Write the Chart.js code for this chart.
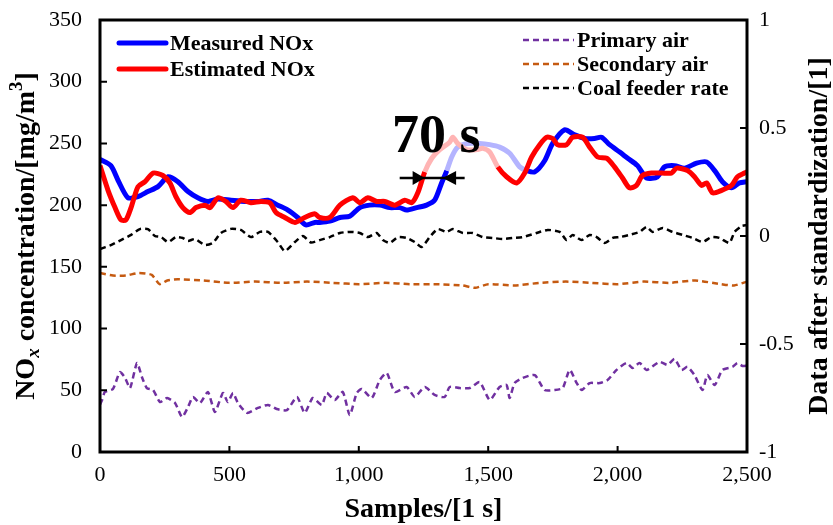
<!DOCTYPE html>
<html>
<head>
<meta charset="utf-8">
<script src="https://cdn.jsdelivr.net/npm/chart.js@4.4.0/dist/chart.umd.min.js"></script>
<style>
html, body { margin: 0; padding: 0; background: #fff; }
#wrap { width: 833px; height: 525px; }
</style>
</head>
<body>
<div id="wrap"><canvas id="nox"></canvas></div>
<script>
// values (samples in s, NOx in mg/m3, others standardized)
var measuredX = [0, 42, 70, 108, 147, 185, 224, 263, 301, 340, 378, 417, 456, 506, 560, 610, 649, 687, 726, 764, 795, 830, 849, 888, 927, 965, 1004, 1042, 1081, 1120, 1158, 1185, 1224, 1262, 1293, 1320, 1340, 1359, 1382, 1421, 1467, 1506, 1544, 1583, 1622, 1649, 1680, 1718, 1749, 1795, 1834, 1873, 1911, 1938, 1969, 2008, 2039, 2077, 2112, 2154, 2181, 2220, 2259, 2305, 2344, 2375, 2405, 2440, 2471, 2500];
var measuredY = [237, 232, 220, 206, 207, 211, 215, 223, 219, 211, 206, 203, 205, 204, 203, 203, 204, 200, 196, 190, 184, 186, 186, 187, 190, 191, 198, 200, 200, 198, 198, 196, 198, 200, 204, 218, 228, 239, 247, 250, 250, 249, 247, 242, 231, 228, 227, 236, 250, 261, 257, 254, 254, 255, 249, 243, 238, 232, 222, 223, 231, 232, 230, 234, 235, 228, 219, 214, 218, 219];

var estimatedX = [0, 31, 58, 81, 100, 120, 147, 174, 205, 243, 270, 293, 320, 347, 371, 405, 425, 456, 486, 514, 544, 583, 622, 656, 680, 714, 753, 791, 830, 849, 888, 927, 977, 1004, 1035, 1069, 1100, 1139, 1178, 1205, 1228, 1255, 1282, 1313, 1351, 1363, 1382, 1417, 1456, 1479, 1506, 1537, 1571, 1610, 1641, 1668, 1699, 1726, 1749, 1768, 1803, 1826, 1865, 1892, 1923, 1958, 1988, 2019, 2046, 2073, 2096, 2131, 2170, 2208, 2228, 2270, 2297, 2324, 2344, 2367, 2402, 2440, 2463, 2490, 2500];
var estimatedY = [232, 212, 198, 188, 188, 198, 215, 219, 226, 224, 218, 207, 198, 194, 198, 200, 198, 206, 203, 198, 204, 202, 203, 202, 194, 190, 186, 190, 193, 190, 190, 200, 206, 202, 206, 203, 203, 200, 204, 202, 210, 227, 238, 245, 251, 255, 250, 245, 245, 246, 243, 231, 223, 218, 226, 239, 249, 255, 254, 249, 249, 255, 255, 247, 239, 238, 231, 222, 214, 216, 224, 226, 226, 226, 230, 228, 223, 216, 218, 210, 212, 216, 223, 226, 227];

var primaryX = [0, 8, 19, 50, 77, 97, 116, 143, 162, 181, 205, 232, 259, 290, 317, 340, 359, 386, 417, 444, 475, 494, 514, 533, 568, 610, 649, 683, 722, 761, 791, 822, 857, 876, 907, 938, 965, 992, 1012, 1050, 1081, 1108, 1139, 1185, 1216, 1255, 1293, 1332, 1351, 1390, 1429, 1467, 1506, 1544, 1571, 1583, 1602, 1633, 1680, 1718, 1757, 1788, 1815, 1842, 1861, 1892, 1931, 1961, 1996, 2035, 2058, 2085, 2112, 2162, 2193, 2220, 2247, 2270, 2297, 2328, 2347, 2375, 2405, 2444, 2463, 2483, 2500];
var primaryY = [-0.78, -0.759, -0.722, -0.708, -0.63, -0.657, -0.704, -0.588, -0.653, -0.704, -0.713, -0.769, -0.75, -0.773, -0.838, -0.792, -0.745, -0.773, -0.722, -0.815, -0.727, -0.769, -0.727, -0.773, -0.819, -0.796, -0.782, -0.801, -0.806, -0.745, -0.819, -0.75, -0.782, -0.727, -0.759, -0.722, -0.829, -0.727, -0.708, -0.75, -0.667, -0.634, -0.722, -0.699, -0.745, -0.699, -0.736, -0.745, -0.699, -0.704, -0.704, -0.676, -0.759, -0.699, -0.69, -0.75, -0.681, -0.657, -0.644, -0.713, -0.713, -0.704, -0.62, -0.681, -0.713, -0.681, -0.681, -0.667, -0.62, -0.588, -0.611, -0.588, -0.62, -0.583, -0.597, -0.569, -0.62, -0.606, -0.644, -0.713, -0.644, -0.69, -0.62, -0.606, -0.588, -0.602, -0.6];

var secondaryX = [0, 50, 100, 150, 200, 230, 260, 300, 400, 500, 600, 700, 800, 900, 1000, 1100, 1200, 1300, 1400, 1450, 1500, 1600, 1700, 1800, 1900, 2000, 2100, 2200, 2300, 2400, 2450, 2500];
var secondaryY = [-0.171, -0.183, -0.183, -0.171, -0.18, -0.223, -0.206, -0.2, -0.206, -0.217, -0.211, -0.217, -0.211, -0.217, -0.223, -0.217, -0.223, -0.223, -0.229, -0.24, -0.223, -0.229, -0.217, -0.211, -0.217, -0.223, -0.211, -0.217, -0.206, -0.223, -0.229, -0.211];

var coalX = [0, 42, 81, 120, 154, 185, 212, 236, 263, 293, 320, 340, 367, 405, 436, 467, 506, 544, 583, 618, 649, 687, 714, 753, 784, 815, 849, 888, 927, 965, 1004, 1035, 1069, 1093, 1120, 1151, 1185, 1216, 1243, 1274, 1305, 1340, 1363, 1402, 1440, 1479, 1517, 1556, 1595, 1633, 1687, 1730, 1776, 1803, 1826, 1861, 1892, 1919, 1950, 1981, 2008, 2046, 2085, 2112, 2135, 2174, 2212, 2251, 2290, 2328, 2363, 2394, 2432, 2452, 2479, 2500];
var coalY = [-0.06, -0.042, -0.019, 0.005, 0.032, 0.032, 0, -0.005, -0.028, -0.005, -0.009, -0.023, -0.014, -0.042, -0.032, 0.014, 0.033, 0.028, -0.005, 0.019, 0.019, -0.028, -0.07, -0.028, 0, -0.03, -0.019, -0.005, 0.014, 0.019, 0.014, -0.005, 0.014, -0.019, -0.032, -0.005, -0.009, -0.028, -0.051, -0.005, 0.032, 0.019, 0.032, 0.014, 0.014, -0.005, -0.009, -0.014, -0.009, -0.005, 0.014, 0.028, 0.019, -0.019, 0.005, -0.019, 0.005, -0.005, -0.032, -0.009, -0.005, 0.005, 0.019, 0.042, 0.019, 0.037, 0.019, 0.005, -0.009, -0.028, -0.005, -0.009, -0.032, 0.019, 0.046, 0.05];

var xTicks = [0, 500, 1000, 1500, 2000, 2500];
var leftTicks = [0, 50, 100, 150, 200, 250, 300, 350];
var rightTicks = [-1, -0.5, 0, 0.5, 1];

// faded stretch around the 70 s delay
var fadeRed = [1250, 1540];
var fadeBlue = [1335, 1650];

var serif = "'Liberation Serif', 'Times New Roman', serif";

function toPoints(xs, ys) {
    var pts = [];
    for (var i = 0; i < xs.length; i++) {
        pts.push({x: xs[i], y: ys[i]});
    }
    return pts;
}

function fade(range, color) {
    return function(ctx) {
        if (ctx.p0.parsed.x >= range[0] && ctx.p1.parsed.x <= range[1]) return color;
        return undefined;
    };
}

function fixWidth(w) {
    return function(s) {
        s.width = w;
        s.paddingTop = 0;
        s.paddingBottom = 0;
    };
}

var decor = {
    id: 'decor',
    afterDraw: function(chart) {
        var c = chart.ctx;
        var a = chart.chartArea;
        var xs = chart.scales.x, yl = chart.scales.y, yr = chart.scales.y2;
        c.save();

        // inward ticks
        c.strokeStyle = '#000';
        c.lineWidth = 2;
        c.beginPath();
        xTicks.slice(1, -1).forEach(function(v) {
            var px = xs.getPixelForValue(v);
            c.moveTo(px, a.bottom); c.lineTo(px, a.bottom - 6);
        });
        leftTicks.slice(1, -1).forEach(function(v) {
            var py = yl.getPixelForValue(v);
            c.moveTo(a.left, py); c.lineTo(a.left + 7, py);
        });
        rightTicks.slice(1, -1).forEach(function(v) {
            var py = yr.getPixelForValue(v);
            c.moveTo(a.right, py); c.lineTo(a.right - 7, py);
        });
        c.stroke();

        // frame
        c.lineWidth = 3;
        c.strokeRect(a.left, a.top, a.right - a.left, a.bottom - a.top);

        // 70 s annotation
        var ay = yl.getPixelForValue(222);
        c.lineWidth = 2.5;
        c.beginPath();
        c.moveTo(xs.getPixelForValue(1158), ay);
        c.lineTo(xs.getPixelForValue(1409), ay);
        c.stroke();
        var t1 = xs.getPixelForValue(1255), b1 = xs.getPixelForValue(1208);
        var t2 = xs.getPixelForValue(1324), b2 = xs.getPixelForValue(1376);
        c.fillStyle = '#000';
        c.beginPath();
        c.moveTo(t1, ay); c.lineTo(b1, ay - 7); c.lineTo(b1, ay + 7); c.closePath();
        c.moveTo(t2, ay); c.lineTo(b2, ay - 7); c.lineTo(b2, ay + 7); c.closePath();
        c.fill();
        c.font = 'bold 54px ' + serif;
        c.textAlign = 'left';
        c.textBaseline = 'alphabetic';
        c.fillText('70 s', xs.getPixelForValue(1128), yl.getPixelForValue(243));

        // legend
        c.font = 'bold 22px ' + serif;
        c.textBaseline = 'middle';
        c.lineCap = 'round';
        c.lineWidth = 5;
        [['Measured NOx', '#0000ff', 43], ['Estimated NOx', '#ff0000', 69]].forEach(function(it) {
            c.strokeStyle = it[1];
            c.beginPath(); c.moveTo(119, it[2]); c.lineTo(166, it[2]); c.stroke();
            c.fillStyle = '#000';
            c.fillText(it[0], 170, it[2] + 1);
        });
        c.lineCap = 'butt';
        c.lineWidth = 2.5;
        c.setLineDash([6, 4]);
        [['Primary air', '#7030a0', 40], ['Secondary air', '#c55a11', 64], ['Coal feeder rate', '#000000', 88]].forEach(function(it) {
            c.strokeStyle = it[1];
            c.beginPath(); c.moveTo(523, it[2]); c.lineTo(574, it[2]); c.stroke();
            c.fillStyle = '#000';
            c.fillText(it[0], 577, it[2] + 1);
        });
        c.setLineDash([]);

        // axis titles
        var midY = (a.top + a.bottom) / 2;
        c.textAlign = 'center';
        c.font = 'bold 28px ' + serif;
        c.fillText('Samples/[1 s]', (a.left + a.right) / 2, 510);

        c.save();
        c.translate(820, midY);
        c.rotate(-Math.PI / 2);
        c.fillText('Data after standardization/[1]', 0, 0);
        c.restore();

        // left title with subscript and superscript
        var parts = [
            ['NO', 'bold 28px ' + serif, 0],
            ['x', 'italic bold 19px ' + serif, 7],
            [' concentration/[mg/m', 'bold 28px ' + serif, 0],
            ['3', 'bold 19px ' + serif, -10],
            [']', 'bold 28px ' + serif, 0]
        ];
        var total = 0;
        parts.forEach(function(p) { c.font = p[1]; total += c.measureText(p[0]).width; });
        c.save();
        c.translate(27, midY);
        c.rotate(-Math.PI / 2);
        c.textAlign = 'left';
        var px = -total / 2;
        parts.forEach(function(p) {
            c.font = p[1];
            c.fillText(p[0], px, p[2]);
            px += c.measureText(p[0]).width;
        });
        c.restore();

        c.restore();
    }
};

new Chart(document.getElementById('nox'), {
    type: 'line',
    data: {
        datasets: [
            {
                label: 'Estimated NOx',
                data: toPoints(estimatedX, estimatedY),
                yAxisID: 'y',
                borderColor: '#ff0000',
                borderWidth: 5,
                tension: 0.25,
                order: 0,
                segment: { borderColor: fade(fadeRed, '#ffb4b4') }
            },
            {
                label: 'Measured NOx',
                data: toPoints(measuredX, measuredY),
                yAxisID: 'y',
                borderColor: '#0000ff',
                borderWidth: 5,
                tension: 0.25,
                order: 1,
                segment: { borderColor: fade(fadeBlue, '#b4b4ff') }
            },
            {
                label: 'Primary air',
                data: toPoints(primaryX, primaryY),
                yAxisID: 'y2',
                borderColor: '#7030a0',
                borderWidth: 2.5,
                borderDash: [6, 4],
                tension: 0.2,
                order: 2
            },
            {
                label: 'Secondary air',
                data: toPoints(secondaryX, secondaryY),
                yAxisID: 'y2',
                borderColor: '#c55a11',
                borderWidth: 2.5,
                borderDash: [6, 4],
                tension: 0.2,
                order: 3
            },
            {
                label: 'Coal feeder rate',
                data: toPoints(coalX, coalY),
                yAxisID: 'y2',
                borderColor: '#000000',
                borderWidth: 2.5,
                borderDash: [6, 4],
                tension: 0.2,
                order: 4
            }
        ]
    },
    options: {
        responsive: true,
        maintainAspectRatio: false,
        animation: false,
        layout: { padding: { top: 20, left: 0, right: 0, bottom: 0 } },
        elements: { point: { radius: 0 } },
        scales: {
            x: {
                type: 'linear',
                min: 0,
                max: 2500,
                afterBuildTicks: function(s) { s.ticks = xTicks.map(function(v) { return {value: v}; }); },
                afterFit: function(s) { s.height = 73; s.paddingLeft = 0; s.paddingRight = 0; },
                grid: { display: false, drawTicks: false },
                border: { display: false },
                ticks: { padding: 10, color: '#000', font: { family: serif, size: 22 }, maxRotation: 0 }
            },
            y: {
                position: 'left',
                min: 0,
                max: 350,
                afterBuildTicks: function(s) { s.ticks = leftTicks.map(function(v) { return {value: v}; }); },
                afterFit: fixWidth(100),
                grid: { display: false, drawTicks: false },
                border: { display: false },
                ticks: { padding: 18, color: '#000', font: { family: serif, size: 22 } }
            },
            y2: {
                position: 'right',
                min: -1,
                max: 1,
                afterBuildTicks: function(s) { s.ticks = rightTicks.map(function(v) { return {value: v}; }); },
                afterFit: fixWidth(86),
                grid: { display: false, drawTicks: false },
                border: { display: false },
                ticks: {
                    padding: 12,
                    color: '#000',
                    font: { family: serif, size: 22 },
                    callback: function(v) { return String(v); }
                }
            }
        },
        plugins: {
            legend: { display: false },
            tooltip: { enabled: false }
        }
    },
    plugins: [decor]
});
</script>
</body>
</html>
